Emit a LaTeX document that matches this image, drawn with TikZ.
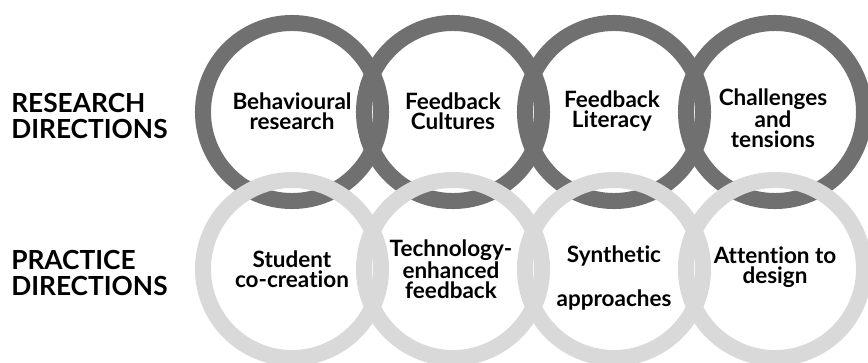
\documentclass[tikz,border=0pt]{standalone}
\usepackage{fontspec}
\setmainfont{Lato}[Ligatures=NoCommon]
\definecolor{ringdark}{RGB}{112,112,112}
\definecolor{ringlight}{RGB}{217,217,217}
\tikzset{
  ring/.style={circle, draw=#1, line width=0.4cm, minimum size=4.45cm, inner sep=0pt},
  topic/.style={align=center, inner sep=0pt, font=\bfseries\fontsize{16}{14.4}\selectfont},
  rowlabel/.style={align=left, anchor=west, inner sep=0pt, font=\bfseries\fontsize{18.7}{17.8}\selectfont}
}

\begin{document}
\begin{tikzpicture}[x=0.025cm, y=-0.025cm]
  \useasboundingbox (0,0) rectangle (868,362);

  %research row, dark rings
  \foreach \i/\x in {1/292,2/453,3/614,4/775}
    \node[ring=ringdark] (res\i) at (\x,112) {};
  %practice row, light rings laid over the dark ones
  \foreach \i/\x in {1/292,2/453,3/614,4/775}
    \node[ring=ringlight] (prac\i) at (\x,269) {};

  \node[rowlabel] (research) at (11,116) {RESEARCH\\DIRECTIONS};
  \node[rowlabel] (practice) at (11,273) {PRACTICE\\DIRECTIONS};

  \node[topic] (behav) at ([yshift=0.02cm]res1) {Behavioural\\research};
  \node[topic] (cultures) at ([yshift=0.02cm]res2) {Feedback\\Cultures};
  \node[topic] (literacy) at ([xshift=-0.05cm,yshift=0.02cm]res3) {Feedback\\Literacy};
  \node[topic] (tensions) at ([xshift=-0.05cm,yshift=-0.15cm]res4) {Challenges\\and\\tensions};

  \node[topic] (student) at (prac1) {Student\\co-creation};
  \node[topic] (techfb) at ([xshift=-0.05cm]prac2) {Technology-\\enhanced\\feedback};
  \node[topic] (synth) at ([yshift=-0.22cm]prac3) {Synthetic\\[0.56cm]approaches};
  \node[topic] (design) at ([yshift=0.05cm]prac4) {Attention to\\design};
\end{tikzpicture}
\end{document}
